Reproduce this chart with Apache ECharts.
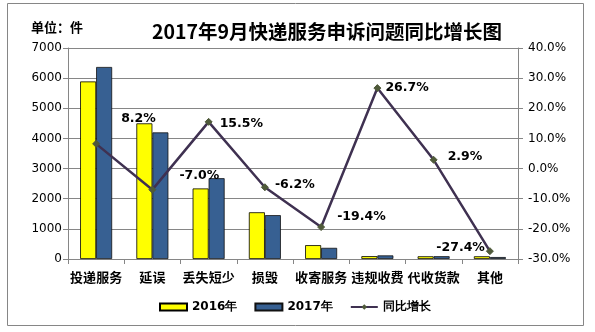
<!DOCTYPE html>
<html><head><meta charset="utf-8">
<script src="https://cdn.jsdelivr.net/npm/echarts@6/dist/echarts.min.js"></script>
<style>html,body{margin:0;padding:0;background:#fff}#c{width:595px;height:332px}</style>
</head><body><div id="c"></div>
<script>
const categories = ['投递服务','延误','丢失短少','损毁','收寄服务','违规收费','代收货款','其他'];
const values2016 = [5890, 4500, 2340, 1550, 460, 95, 90, 90];
const values2017 = [6370, 4200, 2680, 1455, 370, 120, 93, 65];
const growth = [8.2, -7.0, 15.5, -6.2, -19.4, 26.7, 2.9, -27.4];
const leftTicks = [0, 7000, 1000];
const rightTicks = [-30, 40, 10];

// label placement (style only)
const labelPlace = [
  ['right',[16,-25]],['right',[18,-14]],['right',[2,2]],['right',[1,-3]],
  ['right',[7,-10]],['right',[-1,0]],['right',[5,-3]],['left',[4,-3]]
];

const chart = echarts.init(document.getElementById('c'), null, {renderer:'canvas'});
const grey = '#868686';
const cjk = '"Noto Sans CJK SC", sans-serif';
const lat = '"DejaVu Sans", sans-serif';

chart.setOption({
  animation:false,
  backgroundColor:'#fff',
  title:[
    {text:'2017年9月快递服务申诉问题同比增长图', left:147, top:17,
     textStyle:{fontFamily:cjk, fontSize:19.5, fontWeight:'bold', color:'#000'}},
    {text:'单位：件', left:26, top:16,
     textStyle:{fontFamily:cjk, fontSize:13, fontWeight:'bold', color:'#000'}}
  ],
  graphic:[{type:'rect', shape:{x:7.5,y:3.5,width:576,height:322},
    style:{fill:'none', stroke:grey, lineWidth:1}, silent:true}],
  legend:{
    left:159, top:301, padding:0, itemWidth:27, itemHeight:7, itemGap:17,
    textStyle:{fontFamily:lat, fontSize:12, fontWeight:'bold', color:'#000'},
    data:[{name:'2016年', icon:'rect'},{name:'2017年', icon:'rect'},{name:'同比增长'}]
  },
  grid:{left:68, right:77, top:48, bottom:73},
  xAxis:{
    type:'category', data:categories,
    axisLine:{lineStyle:{color:grey}},
    axisTick:{show:true, length:5, lineStyle:{color:grey}},
    axisLabel:{fontFamily:cjk, fontSize:13, fontWeight:'bold', color:'#000', margin:12, interval:0}
  },
  yAxis:[
    {type:'value', min:leftTicks[0], max:leftTicks[1], interval:leftTicks[2],
     axisLine:{show:true, lineStyle:{color:grey}},
     axisTick:{show:true, length:5, lineStyle:{color:grey}},
     splitLine:{lineStyle:{color:grey}},
     axisLabel:{fontFamily:lat, fontSize:12, color:'#000', margin:6, formatter:v=>String(v)}},
    {type:'value', min:rightTicks[0], max:rightTicks[1], interval:rightTicks[2],
     axisLine:{show:true, lineStyle:{color:grey}},
     axisTick:{show:true, length:5, lineStyle:{color:grey}},
     splitLine:{show:false},
     axisLabel:{fontFamily:lat, fontSize:12, color:'#000', margin:10,
       formatter:v=>v.toFixed(1)+'%'}}
  ],
  series:[
    {name:'2016年', type:'bar', data:values2016, barWidth:16, barGap:'0%',
     itemStyle:{color:'#FFFF00', borderColor:'#000', borderWidth:0.8}},
    {name:'2017年', type:'bar', data:values2017, barWidth:16, barGap:'0%',
     itemStyle:{color:'#376092', borderColor:'#111', borderWidth:0.8}},
    {name:'同比增长', type:'line', yAxisIndex:1,
     data:growth.map((v,i)=>({value:v, label:{position:labelPlace[i][0], offset:labelPlace[i][1]}})),
     symbol:'diamond', symbolSize:7,
     lineStyle:{color:'#3F3151', width:2.5},
     itemStyle:{color:'#4F5A3A', borderColor:'#4F5A3A'},
     label:{show:true, fontFamily:lat, fontSize:12.5, fontWeight:'bold', color:'#000',
       formatter:p=>p.value.toFixed(1)+'%'},
     z:5}
  ]
});
</script></body></html>
